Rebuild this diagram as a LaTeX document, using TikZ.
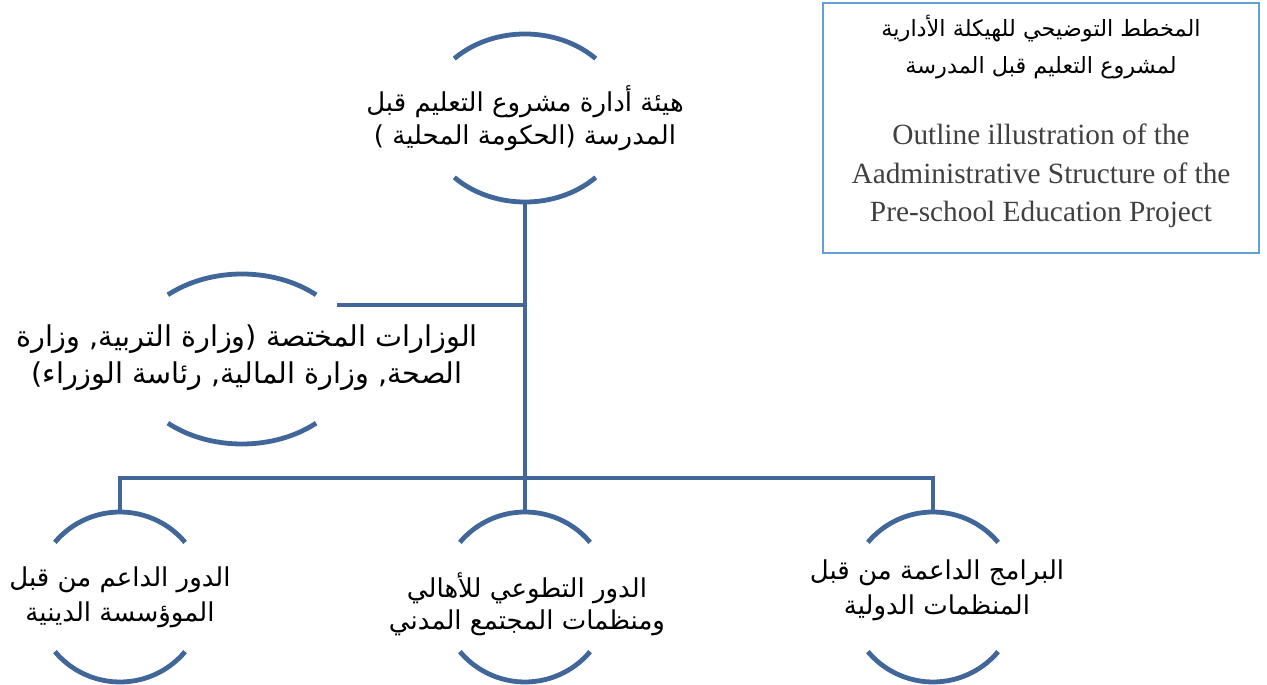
\documentclass[tikz,border=0pt]{standalone}
\usepackage{fontspec}
\setmainfont{Liberation Serif}
\newfontfamily\arabicfont[Script=Arabic]{DejaVu Sans}
\TeXXeTstate=1
\usetikzlibrary{positioning}
\definecolor{ringblue}{RGB}{65,103,154}
\definecolor{boxblue}{RGB}{100,160,215}
\definecolor{textgray}{RGB}{64,64,64}
\tikzset{
    ring/.style={draw=ringblue, line width=3.6pt}, % arcs of each unit
    link/.style={draw=ringblue, line width=3.6pt}, % connectors between units
    unit/.style={font=\arabicfont\fontsize{19.5}{26}\selectfont, align=center, inner sep=0pt},
    english/.style={font=\fontsize{22}{29}\selectfont, text=textgray, align=center, inner sep=0pt}
}

\begin{document}
\begin{tikzpicture}[x=0.75pt, y=0.75pt]
  \useasboundingbox (0,0) rectangle (1267,685);

  % --- 1. units (text) ---
  \node[unit, font=\arabicfont\fontsize{19.5}{24.75}\selectfont] (board) at (525,567) {\beginR هيئة أدارة مشروع التعليم قبل\endR\\\beginR المدرسة (الحكومة المحلية )\endR};
  \node[unit, font=\arabicfont\fontsize{21.5}{27.75}\selectfont] (min) at (247,327) {\beginR الوزارات المختصة (وزارة التربية, وزارة\endR\\\beginR الصحة, وزارة المالية, رئاسة الوزراء)\endR};
  \node[unit] (relig) at (120,88) {\beginR الدور الداعم من قبل\endR\\\beginR الموؤسسة الدينية\endR};
  \node[unit, font=\arabicfont\fontsize{19.5}{24}\selectfont] (civil) at (527,81) {\beginR الدور التطوعي للأهالي\endR\\\beginR ومنظمات المجتمع المدني\endR};
  \node[unit] (intl) at (937,95) {\beginR البرامج الداعمة من قبل\endR\\\beginR المنظمات الدولية\endR};

  % --- 2. arcs above and below every unit: name / x radius / y radius / angle / offset of the ring ---
  \foreach \n/\a/\b/\t/\dx/\dy in {board/100/84/45/0/0, min/113/85/49/-5/-1, relig/85/85/40/0/0, civil/85/85/40/-2/7, intl/85/85/40/-4/-7} {
      \coordinate (\n-c) at ([shift={(\dx,\dy)}]\n.center);
      \draw[ring] ([shift={({\a*cos(\t)},{\b*sin(\t)})}]\n-c)
          arc[start angle=\t, end angle=180-\t, x radius=\a*0.75pt, y radius=\b*0.75pt];
      \draw[ring] ([shift={({-\a*cos(\t)},{-\b*sin(\t)})}]\n-c)
          arc[start angle=180+\t, end angle=360-\t, x radius=\a*0.75pt, y radius=\b*0.75pt];
      \coordinate (\n-n) at ([yshift=\b*0.75pt]\n-c);
      \coordinate (\n-s) at ([yshift=-\b*0.75pt]\n-c);
  }

  % --- 3. connectors ---
  \coordinate (hub) at (525,380);
  \coordinate (minlink) at (337,380);
  \coordinate (bus) at (525,207);
  \draw[link] (board-s) -- (bus);
  \draw[link] (minlink) -- (hub);
  \draw[link] (relig-n) |- (bus) -| (intl-n);
  \draw[link] (civil-n) -- (bus);

  % --- 4. title box ---
  \node[draw=boxblue, line width=0.8pt, minimum width=327pt, minimum height=187.5pt, inner sep=0pt] (legend) at (1041,557) {};
  \node[unit, font=\arabicfont\fontsize{16.8}{27.75}\selectfont] (legendar) at (1041,638) {\beginR المخطط التوضيحي للهيكلة الأدارية\endR\\\beginR لمشروع التعليم قبل المدرسة\endR};
  \node[english] (legenden) at (1041,509) {Outline illustration of the\\Aadministrative Structure of the\\Pre-school Education Project};
\end{tikzpicture}
\end{document}
